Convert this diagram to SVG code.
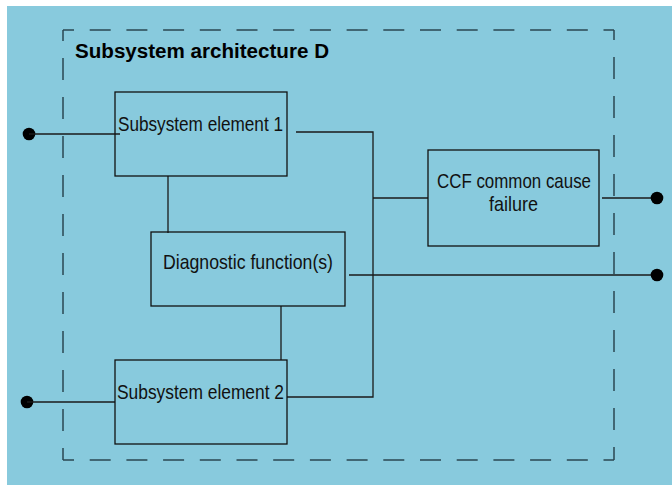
<svg xmlns="http://www.w3.org/2000/svg" width="672" height="485" viewBox="0 0 672 485">
<style>
.bg{fill:#88cadd}
.box{fill:none;stroke:#111;stroke-width:1.3}
.dash{fill:none;stroke:#2a4751;stroke-width:1.5}
.h{stroke-dasharray:21 15.7;stroke-dashoffset:10}
.v{stroke-dasharray:22 17;stroke-dashoffset:11}
.wire{fill:none;stroke:#1a1a1a;stroke-width:1.3}
.dot{fill:#000}
.t{font-family:"Liberation Sans",Arial,sans-serif;font-size:21px;fill:#111}
.title{font-family:"Liberation Sans",Arial,sans-serif;font-size:20px;font-weight:bold;fill:#000}
</style>
<rect x="0" y="0" width="672" height="485" fill="#fff"/>
<rect class="bg" x="7" y="6" width="665" height="479"/>
<g id="frame">
<line class="dash h" x1="63" y1="30" x2="614" y2="30"/>
<line class="dash v" x1="63" y1="30" x2="63" y2="460"/>
<line class="dash v" x1="614" y1="30" x2="614" y2="460" style="stroke-dashoffset:12"/>
<line class="dash h" x1="63" y1="460" x2="614" y2="460"/>
<text class="title" x="75" y="58" textLength="254" lengthAdjust="spacingAndGlyphs">Subsystem architecture D</text>
</g>
<g id="connectors">
<circle class="dot" cx="29" cy="134" r="6.3"/>
<line class="wire" x1="29" y1="134" x2="120" y2="134"/>
<polyline class="wire" points="296,132 373,132 373,397 287,397"/>
<line class="wire" x1="373" y1="198" x2="428" y2="198"/>
<line class="wire" x1="602" y1="198" x2="657" y2="198"/>
<circle class="dot" cx="657" cy="198" r="6.3"/>
<line class="wire" x1="349" y1="275" x2="657" y2="275"/>
<circle class="dot" cx="657" cy="275" r="6.3"/>
<line class="wire" x1="168" y1="176" x2="168" y2="233"/>
<line class="wire" x1="281" y1="306" x2="281" y2="360"/>
<circle class="dot" cx="27" cy="402" r="6.3"/>
<line class="wire" x1="27" y1="402" x2="115" y2="402"/>
</g>
<g id="element1">
<rect class="box" x="115" y="92" width="172" height="84"/>
<text class="t" x="118" y="131" textLength="165" lengthAdjust="spacingAndGlyphs">Subsystem element 1</text>
</g>
<g id="diagnostic">
<rect class="box" x="151" y="232" width="194" height="74"/>
<text class="t" x="163" y="269" textLength="170" lengthAdjust="spacingAndGlyphs">Diagnostic function(s)</text>
</g>
<g id="element2">
<rect class="box" x="115" y="360" width="172" height="84"/>
<text class="t" x="117" y="399" textLength="167" lengthAdjust="spacingAndGlyphs">Subsystem element 2</text>
</g>
<g id="ccf">
<rect class="box" x="428" y="150" width="171" height="96"/>
<text class="t" x="437" y="188" textLength="154" lengthAdjust="spacingAndGlyphs">CCF common cause</text>
<text class="t" x="489" y="211" textLength="49" lengthAdjust="spacingAndGlyphs">failure</text>
</g>
</svg>
